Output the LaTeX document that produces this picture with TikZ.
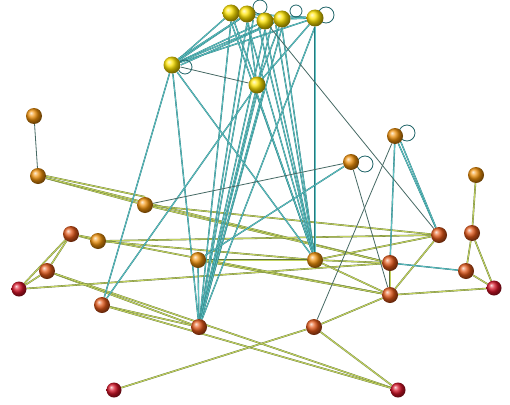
\documentclass[tikz,border=0pt]{standalone}
\usetikzlibrary{backgrounds}
\definecolor{cY}{RGB}{255,228,0}
\definecolor{cO}{RGB}{240,145,10}
\definecolor{cRO}{RGB}{228,88,25}
\definecolor{cR}{RGB}{215,20,40}
\definecolor{cTd}{RGB}{40,120,125}
\definecolor{cTl}{RGB}{95,195,195}
\definecolor{cOd}{RGB}{95,115,55}
\definecolor{cOl}{RGB}{195,210,95}
\definecolor{cDk}{RGB}{70,105,100}
\tikzset{
  sph/.style={circle, inner sep=0pt, minimum size=#1},
  yb/.style={sph=17pt, ball color=cY},
  ob/.style={sph=16pt, ball color=cO},
  rob/.style={sph=16pt, ball color=cRO},
  rb/.style={sph=15pt, ball color=cR},
  tl/.style={draw=cTd, line width=0.3pt, double=cTl, double distance=0.8pt},
  ol/.style={draw=cOd, line width=0.3pt, double=cOl, double distance=1pt},
  dk/.style={draw=cDk, line width=0.8pt},
  lp/.style={draw=cTd!85!black, line width=0.8pt},
}
\begin{document}
\begin{tikzpicture}[x=1pt,y=-1pt]
\useasboundingbox (0,0) rectangle (510,404);
% yellow
\node[yb] (Y1) at (231,13) {};
\node[yb] (Y2) at (247,14) {};
\node[yb] (Y3) at (265,21) {};
\node[yb] (Y4) at (282,19) {};
\node[yb] (Y5) at (315,18) {};
\node[yb] (Y6) at (172,65) {};
\node[yb] (Y7) at (257,85) {};
% orange
\node[ob] (O1) at (34,116) {};
\node[ob] (O2) at (38,176) {};
\node[ob] (O3) at (145,205) {};
\node[ob] (O4) at (351,162) {};
\node[ob] (O5) at (395,136) {};
\node[ob] (O6) at (476,175) {};
\node[rob] (O7) at (71,234) {};
\node[ob] (O8) at (98,241) {};
\node[ob] (O9) at (198,260) {};
\node[ob] (O10) at (315,260) {};
\node[rob] (O11) at (439,235) {};
\node[rob] (O12) at (472,233) {};
% red-orange
\node[rob] (R1) at (47,271) {};
\node[rob] (R2) at (390,263) {};
\node[rob] (R3) at (466,271) {};
\node[rob] (R4) at (390,295) {};
\node[rob] (R5) at (102,305) {};
\node[rob] (R6) at (199,327) {};
\node[rob] (R7) at (314,327) {};
% red
\node[rb] (D1) at (19,289) {};
\node[rb] (D2) at (494,288) {};
\node[rb] (D3) at (114,390) {};
\node[rb] (D4) at (398,390) {};
\begin{scope}[on background layer]
\fill[white] (0,0) rectangle (510,404);
% olive edges
\draw[dk] (O1) -- (O2);
\draw[ol] (O2) -- (O3);
\draw[ol] (O2.east) -- (O3.north);
\draw[ol] (O2) -- (R2);
\draw[ol] (O3) -- (R2);
\draw[ol] (O3) -- (O11);
\draw[ol] (O7) -- (O8);
\draw[ol] (O7) -- (R1);
\draw[ol] (D1) -- (R1);
\draw[ol] (D1) -- (O7);
\draw[ol] (O7) -- (R4);
\draw[ol] (O8) -- (O10);
\draw[ol] (O8) -- (O11);
\draw[ol] (R1) -- (R6);
\draw[ol] (R1) -- (D4);
\draw[ol] (R5) -- (R6);
\draw[ol] (R5) -- (D4);
\draw[ol] (R7) -- (R4);
\draw[ol] (R7) -- (D4);
\draw[ol] (D3) -- (R7);
\draw[ol] (O9) -- (R4);
\draw[ol] (O9) -- (O10);
\draw[ol] (O10) -- (R2);
\draw[ol] (O10) -- (O11);
\draw[ol] (O10) -- (R4);
\draw[ol] (O11) -- (R4);
\draw[ol] (R2) -- (R4);
\draw[ol] (R4) -- (D2);
\draw[ol] (D1) -- (R2);
\draw[tl] (R2) -- (R3);
\draw[ol] (O12) -- (R3);
\draw[ol] (O12) -- (D2);
\draw[ol] (R3) -- (D2);
\draw[ol] (O6) -- (O12);
% teal edges
\foreach \a in {Y1,Y2,Y3,Y4,Y5} \draw[tl] (Y6) -- (\a);
\draw[tl] (Y6.north east) -- (Y2);
\draw[tl] (Y6.east) -- (Y4);
\draw[tl] (Y1) -- (Y2); \draw[tl] (Y2) -- (Y3); \draw[tl] (Y3) -- (Y4);
\draw[tl] (Y4) -- (Y5); \draw[tl] (Y1) -- (Y5); \draw[tl] (Y2) -- (Y5);
\foreach \a in {Y1,Y2,Y4,Y5} \draw[tl] (Y7) -- (\a);
\foreach \a in {Y1,Y2,Y3,Y4,Y5,Y7} \draw[tl] (\a.south) -- (R6);
\foreach \a in {Y2,Y3,Y7} \draw[tl] (\a.south east) -- (R6);
\foreach \a in {Y1,Y2,Y3,Y4,Y5,Y7} \draw[tl] (\a.south) -- (O10);
\foreach \a in {Y3,Y4} \draw[tl] (\a.south west) -- (O10);
\draw[tl] (Y6) -- (R5);
\draw[tl] (Y7) -- (R5);
\draw[tl] (Y6) -- (R6);
\draw[tl] (Y6) -- (O10);
\draw[tl] (O9) -- (R6);
\draw[tl] (O5) -- (R2);
\draw[tl] (O5) -- (O11);
\draw[dk] (O5) -- (R7);
\draw[dk] (O4) -- (R4);
\draw[tl] (O4) -- (O9);
\draw[dk] (O4) -- (O3);
\draw[dk] (Y3) -- (O11);
\draw[dk] (Y6) -- (Y7);
\draw[tl] (O11) -- (O5.south east);
% self-loops
\draw[lp] ([shift={(12,-3)}]O5.center) circle (8);
\draw[lp] ([shift={(14,2)}]O4.center) circle (8);
\draw[lp] ([shift={(13,2)}]Y6.center) circle (7);
\draw[lp] ([shift={(13,-7)}]Y2.center) circle (7);
\draw[lp] ([shift={(14,-8)}]Y4.center) circle (6);
\draw[lp] ([shift={(11,-3)}]Y5.center) circle (8);
\end{scope}
\end{tikzpicture}
\end{document}
